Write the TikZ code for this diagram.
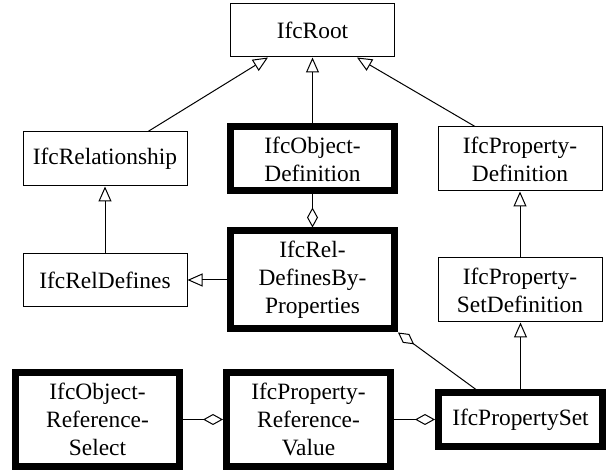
\documentclass[tikz,border=0pt]{standalone}
\usepackage{fontspec}
\setmainfont{Liberation Serif}
\usetikzlibrary{positioning, arrows.meta}

\begin{document}
\begin{tikzpicture}

\tikzstyle{cls}=[draw, line width=0.5pt, minimum width=82pt, minimum height=26.5pt, inner xsep=2pt, align=center, font=\fontsize{11.7}{14}\selectfont]
\tikzstyle{keycls}=[cls, line width=3.5pt]
\tikzstyle{inherit}=[line width=0.5pt, -{Triangle[open, length=7.5pt, width=6.5pt]}]
\tikzstyle{aggr}=[line width=0.5pt, -{Diamond[open, length=10pt, width=5.5pt]}]

\useasboundingbox (0,0) rectangle (303pt,236pt);

% NODES
% top
\node[cls] (root) at (156.25pt,220.75pt) {IfcRoot};

% second row
\node[keycls, minimum height=32pt, below=33pt of root] (objdef) {IfcObject-\\Definition};
\node[cls, minimum height=27pt, left=19.75pt of objdef] (rel) {IfcRelationship};
\node[cls, minimum height=32pt, right=19.75pt of objdef] (propdef) {IfcProperty-\\Definition};

% third row
\node[keycls, minimum height=49pt, below=16.5pt of objdef] (relprop) {IfcRel-\\DefinesBy-\\Properties};
\node[cls, left=19.75pt of relprop] (reldef) {IfcRelDefines};
\node[cls, minimum height=32pt, below=33pt of propdef] (psetdef) {IfcProperty-\\SetDefinition};

% bottom row
\node[keycls, minimum height=46.5pt, below=18.5pt of relprop, xshift=-2pt] (propref) {IfcProperty-\\Reference-\\Value};
\node[keycls, minimum height=46.5pt, left=20pt of propref] (objref) {IfcObject-\\Reference-\\Select};
\node[keycls, right=20.5pt of propref] (pset) {IfcPropertySet};

% ARROWS
\draw[inherit] ([xshift=21.5pt]rel.north) -- ([xshift=-22.25pt]root.south);
\draw[inherit] (objdef) -- (root);
\draw[inherit] ([xshift=-22.5pt]propdef.north) -- ([xshift=22.25pt]root.south);
\draw[inherit] (reldef) -- (rel);
\draw[inherit] (relprop) -- (reldef);
\draw[inherit] (psetdef) -- (propdef);
\draw[inherit] (pset.north) -- (pset.north |- psetdef.south);

% AGGREGATIONS
\draw[aggr] (objdef) -- (relprop);
\draw[aggr] ([xshift=-22.25pt]pset.north) -- (relprop.south east);
\draw[aggr] (objref) -- (propref);
\draw[aggr] (propref) -- (pset);

\end{tikzpicture}
\end{document}
